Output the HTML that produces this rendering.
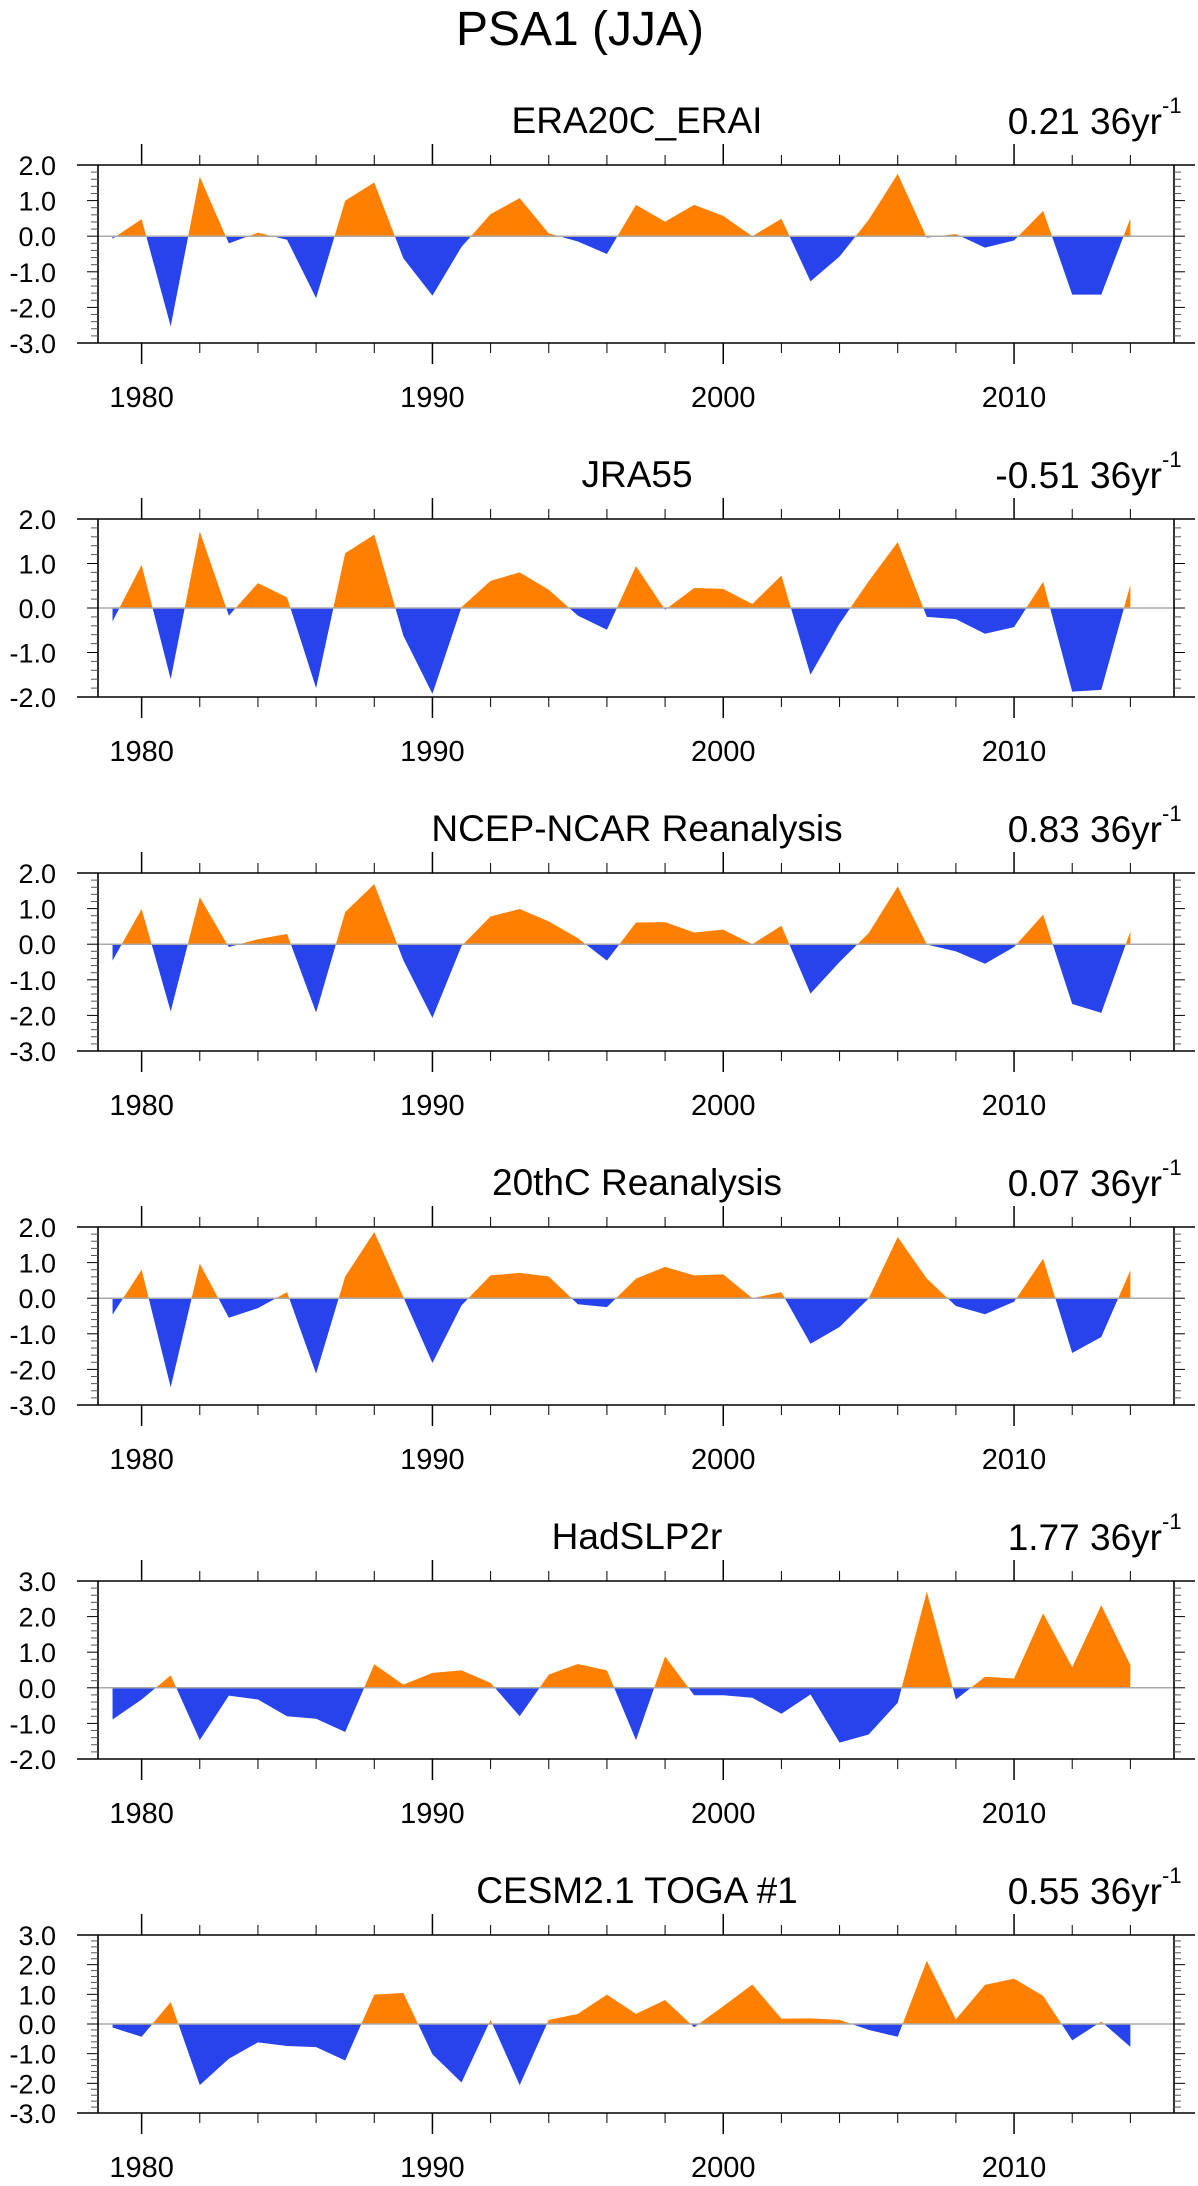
<!DOCTYPE html>
<html><head><meta charset="utf-8">
<style>
html,body{margin:0;padding:0;background:#fff;}
svg{display:block;font-family:"Liberation Sans",Arial,sans-serif;}
</style></head>
<body>
<svg id="chart" width="1198" height="2186" viewBox="0 0 1198 2186" xmlns="http://www.w3.org/2000/svg">
<text x="580" y="45" font-size="48" text-anchor="middle">PSA1 (JJA)</text>
</svg>
<script>
const years = [];
for (let y = 1979; y <= 2014; y++) years.push(y);
const panelTitles = ["ERA20C_ERAI","JRA55","NCEP-NCAR Reanalysis","20thC Reanalysis","HadSLP2r","CESM2.1 TOGA #1"];
const trendLabels = ["0.21","-0.51","0.83","0.07","1.77","0.55"];
const yMins = [-3,-2,-3,-3,-2,-3];
const yMaxs = [2,2,2,2,3,3];
const xTickYears = [1980,1990,2000,2010];
const era20c = [-0.07,0.48,-2.53,1.67,-0.2,0.1,-0.1,-1.74,1.0,1.51,-0.62,-1.67,-0.3,0.62,1.07,0.08,-0.15,-0.5,0.88,0.41,0.88,0.57,0.0,0.49,-1.27,-0.57,0.46,1.75,-0.04,0.06,-0.32,-0.12,0.71,-1.64,-1.64,0.5];
const jra55 = [-0.3,0.97,-1.6,1.72,-0.17,0.56,0.24,-1.8,1.23,1.65,-0.62,-1.93,0.02,0.61,0.8,0.41,-0.17,-0.49,0.94,-0.04,0.45,0.43,0.09,0.73,-1.5,-0.35,0.6,1.48,-0.2,-0.25,-0.58,-0.43,0.59,-1.88,-1.84,0.52];
const ncep = [-0.46,0.99,-1.89,1.32,-0.08,0.14,0.29,-1.92,0.9,1.69,-0.45,-2.07,-0.05,0.78,0.99,0.64,0.17,-0.46,0.61,0.62,0.33,0.41,0.0,0.52,-1.39,-0.5,0.31,1.62,-0.01,-0.2,-0.55,-0.08,0.83,-1.68,-1.93,0.36];
const c20 = [-0.46,0.8,-2.5,0.97,-0.55,-0.28,0.17,-2.12,0.61,1.86,0.03,-1.82,-0.2,0.64,0.71,0.61,-0.17,-0.25,0.55,0.88,0.64,0.67,0.0,0.17,-1.28,-0.81,-0.01,1.72,0.55,-0.22,-0.45,-0.1,1.11,-1.54,-1.09,0.78];
const hadslp = [-0.89,-0.33,0.35,-1.47,-0.22,-0.33,-0.8,-0.87,-1.24,0.66,0.09,0.42,0.49,0.14,-0.8,0.37,0.67,0.49,-1.47,0.88,-0.21,-0.21,-0.28,-0.73,-0.19,-1.54,-1.31,-0.42,2.7,-0.33,0.31,0.26,2.09,0.58,2.32,0.64];
const cesm = [-0.12,-0.43,0.74,-2.06,-1.17,-0.62,-0.74,-0.78,-1.23,0.99,1.05,-1.02,-1.97,0.14,-2.06,0.14,0.34,0.99,0.34,0.81,-0.11,0.6,1.33,0.18,0.19,0.14,-0.2,-0.43,2.13,0.16,1.32,1.53,0.95,-0.55,0.08,-0.77];
const allSeries = [era20c,jra55,ncep,c20,hadslp,cesm];

const NS = "http://www.w3.org/2000/svg";
const svg = document.getElementById("chart");
const L = 98, R = 1174, H = 178, TOP0 = 165, GAP = 354;
const XMIN = 1978.5, XMAX = 2015.5;
function xs(yr){ return L + (yr - XMIN) / (XMAX - XMIN) * (R - L); }
function mk(tag, attrs, parent){ const e = document.createElementNS(NS, tag); for (const k in attrs) e.setAttribute(k, attrs[k]); (parent||svg).appendChild(e); return e; }

allSeries.forEach((vals, p) => {
  const top = TOP0 + p * GAP, bot = top + H;
  const ymin = yMins[p], ymax = yMaxs[p];
  const ys = v => bot - (v - ymin) / (ymax - ymin) * H;
  const g = mk("g", {});
  
  
  const y0 = ys(0);
  const cpPos = mk("clipPath", {id:"pos"+p}, g);
  mk("rect", {x:L, y:top, width:R-L, height:y0-top}, cpPos);
  const cpNeg = mk("clipPath", {id:"neg"+p}, g);
  mk("rect", {x:L, y:y0, width:R-L, height:bot-y0}, cpNeg);
  let d = "M" + xs(years[0]) + "," + y0;
  vals.forEach((v,i) => { d += " L" + xs(years[i]).toFixed(2) + "," + ys(v).toFixed(2); });
  d += " L" + xs(years[years.length-1]) + "," + y0 + " Z";
  const pos = mk("path", {d:d, fill:"#ff8000", "clip-path":"url(#pos"+p+")"}, g);
  
  
  const neg = mk("path", {d:d, fill:"#2643ec", "clip-path":"url(#neg"+p+")"}, g);
  
  
  const zl = mk("line", {x1:L, x2:R, y1:y0, y2:y0, stroke:"#aaa", "stroke-width":1.5}, g);
  
  
  mk("line", {x1:77, x2:1195, y1:top, y2:top, stroke:"#000", "stroke-width":1.6}, g);
  mk("line", {x1:77, x2:1195, y1:bot, y2:bot, stroke:"#000", "stroke-width":1.6}, g);
  mk("line", {x1:L, x2:L, y1:top, y2:bot, stroke:"#000", "stroke-width":1.6}, g);
  mk("line", {x1:R, x2:R, y1:top, y2:bot, stroke:"#000", "stroke-width":1.6}, g);
  for (let yr = 1980; yr <= 2014; yr += 2) {
    const major = (yr % 10 === 0);
    const len = major ? 21 : 10, x = xs(yr);
    mk("line", {x1:x, x2:x, y1:top-len, y2:top, stroke:"#000", "stroke-width":major?1.5:1}, g);
    mk("line", {x1:x, x2:x, y1:bot, y2:bot+len, stroke:"#000", "stroke-width":major?1.5:1}, g);
  }
  xTickYears.forEach(yr => {
    const t = mk("text", {x:xs(yr), y:bot+64, "font-size":29, "text-anchor":"middle"}, g);
    
    
    t.textContent = yr;
  });
  for (let k = Math.round(ymin*5); k <= Math.round(ymax*5); k++) {
    const v = k/5, y = ys(v), major = (k % 5 === 0);
    const len = major ? 11 : 7;
    mk("line", {x1:L-len, x2:L, y1:y, y2:y, stroke:major?"#000":"#555", "stroke-width":1}, g);
    mk("line", {x1:R, x2:R+len, y1:y, y2:y, stroke:major?"#000":"#555", "stroke-width":1}, g);
    if (major) {
      const t = mk("text", {x:56, y:y+10, "font-size":27, "text-anchor":"end"}, g);
      
      
      t.textContent = v.toFixed(1);
    }
  }
  const tt = mk("text", {x:637, y:top-32, "font-size":37, "text-anchor":"middle"}, g);
  
  
  tt.textContent = panelTitles[p];
  const tr = mk("text", {x:1162, y:top-31, "font-size":37, "text-anchor":"end"}, g);
  
  
  tr.textContent = trendLabels[p] + " 36yr";
  const sup = mk("text", {x:1162, y:top-52, "font-size":22, "text-anchor":"start"}, g);
  
  
  sup.textContent = "-1";
});
</script>
</body></html>
